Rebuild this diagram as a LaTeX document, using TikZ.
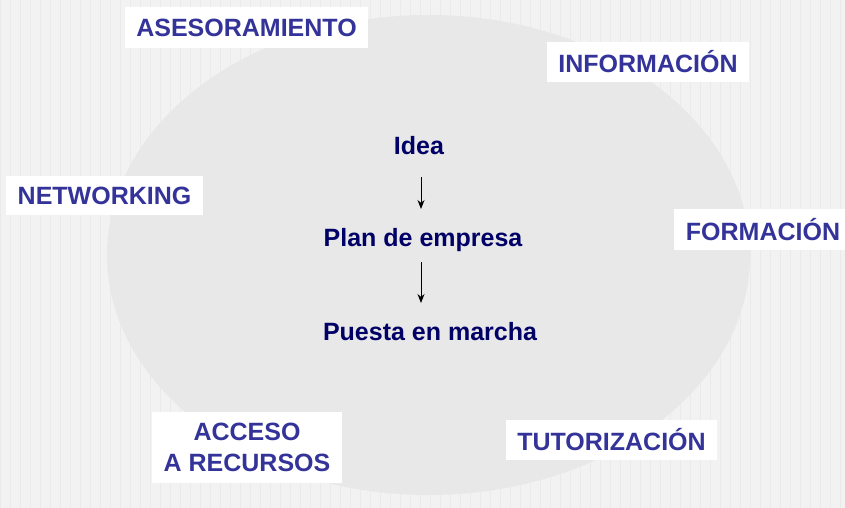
\documentclass[tikz,border=0pt]{standalone}
\usepackage{fontspec}
\setmainfont{Liberation Sans}
\usetikzlibrary{arrows.meta}
\definecolor{bgc}{HTML}{F2F2F2}
\definecolor{gridc}{HTML}{EAEAEA}
\definecolor{ellc}{HTML}{E8E8E8}
\definecolor{labc}{HTML}{333399}
\definecolor{midc}{HTML}{000066}
\tikzset{
  lab/.style={fill=white, text=labc, font=\fontsize{25}{31}\selectfont\bfseries, align=center, inner sep=0pt},
  mid/.style={text=midc, font=\fontsize{25}{30}\selectfont\bfseries, inner sep=0pt},
  arr/.style={-{Stealth[length=9pt,width=7pt]}, line width=0.9pt, black}
}
\begin{document}
\begin{tikzpicture}[x=1pt,y=-1pt]
\useasboundingbox (0,0) rectangle (845,508);
\fill[bgc] (0,0) rectangle (845,508);
\draw[gridc, line width=0.8pt, step=10] (0,0) grid (845,508);
\fill[ellc] (428.5,255) ellipse [x radius=321.5, y radius=240];
% label boxes
\node[lab, minimum width=243pt, minimum height=41pt] (ases) at (246.5,27.5) {ASESORAMIENTO};
\node[lab, minimum width=202pt, minimum height=40pt] (info) at (648,62) {INFORMACIÓN};
\node[lab, minimum width=197pt, minimum height=39pt] (netw) at (104.5,195.5) {NETWORKING};
\node[lab, minimum width=171pt, minimum height=41pt, text width=171pt] (form) at (759.5,229.5) {\hspace*{7pt}FORMACIÓN};
\node[lab, minimum width=190pt, minimum height=71pt] (acc) at (247,447.5) {ACCESO\\A RECURSOS};
\node[lab, minimum width=211pt, minimum height=40pt] (tuto) at (611.5,440) {TUTORIZACIÓN};
% center flow
\node[mid] (idea) at (419,146) {Idea};
\node[mid] (plan) at (423,240) {Plan de empresa};
\node[mid] (puesta) at (430,332) {Puesta en marcha};
\coordinate (a1s) at (421,177);
\coordinate (a1e) at (421,209);
\coordinate (a2s) at (421,262);
\coordinate (a2e) at (421,303);
\draw[arr] (a1s) -- (a1e);
\draw[arr] (a2s) -- (a2e);
\end{tikzpicture}
\end{document}
